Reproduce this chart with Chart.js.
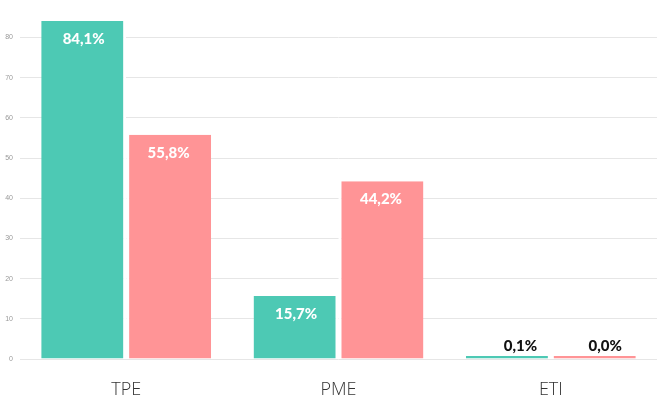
<!DOCTYPE html>
<html><head><meta charset="utf-8">
<script src="https://cdn.jsdelivr.net/npm/chart.js@4"></script>
<style>html,body{margin:0;padding:0;background:#fff}#wrap{width:664px;height:401px}</style>
</head><body><div id="wrap"><canvas id="c"></canvas></div>
<script>
const categories = ["TPE", "PME", "ETI"];
const seriesA = [84.1, 15.7, 0.1];
const seriesB = [55.8, 44.2, 0.0];
const yMax = 84.1;
const yStep = 10;

const labelPlugin = {
  id: 'valueLabels',
  afterDatasetsDraw(chart) {
    const ctx = chart.ctx;
    ctx.save();
    chart.data.datasets.forEach((ds, di) => {
      const meta = chart.getDatasetMeta(di);
      meta.data.forEach((el, i) => {
        const v = ds.data[i];
        const txt = v.toFixed(1).replace('.', ',') + '%';
        const p = el.getProps(['x', 'y', 'base'], true);
        ctx.font = '900 15px Lato, "Noto Sans", sans-serif';
        ctx.textAlign = 'center';
        ctx.textBaseline = 'middle';
        if (p.base - p.y > 30) {
          ctx.fillStyle = '#ffffff';
          ctx.fillText(txt, p.x, p.y + 18);
        } else {
          ctx.fillStyle = '#111111';
          ctx.fillText(txt, p.x + 12, p.y - 10);
        }
      });
    });
    ctx.restore();
  }
};

new Chart(document.getElementById('c'), {
  type: 'bar',
  data: {
    labels: categories,
    datasets: [
      { data: seriesA, backgroundColor: '#4dc9b4', borderColor: '#ffffff',
        borderWidth: {left: 0, right: 3, top: 0, bottom: 0}, borderSkipped: false,
        categoryPercentage: 0.8, barPercentage: 1, minBarLength: 3 },
      { data: seriesB, backgroundColor: '#ff9496', borderColor: '#ffffff',
        borderWidth: {left: 3, right: 0, top: 0, bottom: 0}, borderSkipped: false,
        categoryPercentage: 0.8, barPercentage: 1, minBarLength: 3 }
    ]
  },
  options: {
    responsive: true,
    maintainAspectRatio: false,
    animation: false,
    layout: { padding: { top: 21, right: 7, left: 0, bottom: 0 } },
    plugins: { legend: { display: false }, tooltip: { enabled: false } },
    scales: {
      x: {
        grid: { display: false, drawTicks: false },
        border: { display: false },
        ticks: { color: '#333333', font: { size: 18, family: '"Open Sans", "Liberation Sans", sans-serif', weight: '300' }, padding: 20 },
        afterFit(s) { s.height = 42; }
      },
      y: {
        min: 0, max: yMax,
        border: { display: false },
        grid: { color: (c) => (c.tick && c.tick.value % yStep === 0) ? '#e6e6e6' : 'rgba(0,0,0,0)', drawTicks: false, lineWidth: 1 },
        ticks: { stepSize: yStep, color: '#999999', font: { size: 7, family: '"Liberation Sans", Arial, sans-serif' }, padding: 7,
          callback: (v) => (v % yStep === 0) ? v : '' },
        afterFit(s) { s.width = 20; }
      }
    }
  },
  plugins: [labelPlugin]
});
</script></body></html>
